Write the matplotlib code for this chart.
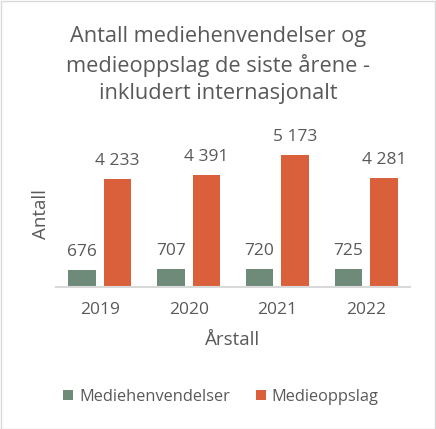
import matplotlib
matplotlib.use("Agg")
import matplotlib.pyplot as plt
import numpy as np
from matplotlib.patches import Rectangle

years = ["2019", "2020", "2021", "2022"]
mediehenvendelser = [676, 707, 720, 725]
medieoppslag = [4233, 4391, 5173, 4281]
labels_h = ["676", "707", "720", "725"]
labels_o = ["4 233", "4 391", "5 173", "4 281"]
series_names = ["Mediehenvendelser", "Medieoppslag"]

GREEN = "#6E8B7A"
ORANGE = "#D9603B"
TXT = "#595959"

plt.rcParams['font.family'] = ['Open Sans', 'DejaVu Sans']

W, H = 436, 429
fig = plt.figure(figsize=(W/100, H/100), dpi=100)
fig.patch.set_facecolor("white")
fig.add_artist(Rectangle((0.5/W, 0.5/H), 1-1.5/W, 1-1.5/H, transform=fig.transFigure,
                         fill=False, edgecolor="#D9D9D9", linewidth=1))

left, right = 55.6, 410.4
bottom_px, top_px = 287, 134
ax = fig.add_axes([left/W, 1-bottom_px/H, (right-left)/W, (bottom_px-top_px)/H])
ax.set_xlim(-0.5, 3.5)
ax.set_ylim(0, 6000)

x = np.arange(len(years))
bw = 0.31
off = 0.2
b1 = ax.bar(x - off, mediehenvendelser, bw, color=GREEN, label=series_names[0])
b2 = ax.bar(x + off, medieoppslag, bw, color=ORANGE, label=series_names[1])

for xi, v, t in zip(x - off, mediehenvendelser, labels_h):
    ax.annotate(t, (xi, v), xytext=(0, 7), textcoords="offset points",
                ha="center", va="bottom", fontsize=12.5, color=TXT)
for xi, v, t in zip(x + off, medieoppslag, labels_o):
    ax.annotate(t, (xi, v), xytext=(0, 7), textcoords="offset points",
                ha="center", va="bottom", fontsize=12.5, color=TXT)

for s in ["top", "right", "left"]:
    ax.spines[s].set_visible(False)
ax.spines["bottom"].set_color("#D9D9D9")
ax.spines["bottom"].set_linewidth(1.5)
ax.set_yticks([])
ax.set_xticks(x)
ax.set_xticklabels(years, fontsize=12.5, color=TXT)
ax.tick_params(axis="x", length=0, pad=11)
ax.patch.set_alpha(0)

fig.text(41/W, 1-214/H, "Antall", rotation=90, ha="center", va="center",
         fontsize=13.5, color=TXT)
fig.text(233/W, 1-340/H, "Årstall", ha="center", va="center",
         fontsize=13.5, color=TXT)

fig.text(218/W, 1-65/H, "Antall mediehenvendelser og\nmedieoppslag de siste årene -\ninkludert internasjonalt",
         ha="center", va="center", fontsize=15.7, color=TXT, linespacing=1.39)

leg = fig.legend(handles=[b1, b2], loc="center", bbox_to_anchor=(221/W, 1-397/H),
                 ncol=2, frameon=False, fontsize=11.8, handlelength=0.6, handleheight=0.6,
                 columnspacing=1.6, handletextpad=0.35)
for t in leg.get_texts():
    t.set_color(TXT)

fig.savefig("out.png", dpi=100, facecolor="white")
